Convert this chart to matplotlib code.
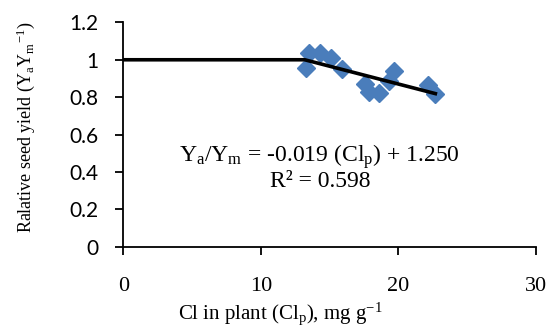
import matplotlib.pyplot as plt
import matplotlib as mpl

# Werte
cl_plant = [13.3, 13.5, 14.3, 15.1, 15.9, 17.55, 17.9, 18.6, 19.3, 19.7, 22.2, 22.65]
rel_yield = [0.954, 1.034, 1.037, 1.007, 0.950, 0.870, 0.826, 0.824, 0.888, 0.940, 0.863, 0.817]

# Modell: Plateau bei 1.0, danach lineare Abnahme
line_x = [0, 13.2, 22.7]
line_y = [1.0, 1.0, 0.819]

x_ticks = [0, 10, 20, 30]
y_ticks = [0, 0.2, 0.4, 0.6, 0.8, 1.0, 1.2]
y_ticklabels = ['0', '0.2', '0.4', '0.6', '0.8', '1', '1.2']

mpl.rcParams['font.family'] = 'Liberation Serif'
mpl.rcParams['mathtext.fontset'] = 'custom'
mpl.rcParams['mathtext.rm'] = 'Liberation Serif'
mpl.rcParams['mathtext.it'] = 'Liberation Serif'

fig = plt.figure(figsize=(5.49, 3.29), dpi=100)
ax = fig.add_axes([0.2246, 0.250, 0.7512, 0.682])

ax.plot(line_x, line_y, color='black', lw=2.6, zorder=3)
ax.plot(cl_plant, rel_yield, 'D', color='#4a7dbb', ms=9, mec='#4a7dbb', zorder=2)

ax.set_xlim(0, 30)
ax.set_ylim(0, 1.2)
ax.set_xticks(x_ticks)
ax.set_yticks(y_ticks)
ax.set_yticklabels(y_ticklabels, family='Lato', fontsize=15)
for lab in ax.get_xticklabels():
    lab.set_fontsize(16)

ax.spines['top'].set_visible(False)
ax.spines['right'].set_visible(False)
ax.spines['left'].set_linewidth(1.3)
ax.spines['bottom'].set_linewidth(1.3)
ax.tick_params(axis='both', direction='out', length=6, width=1.3)
ax.tick_params(axis='y', pad=12)
ax.tick_params(axis='x', pad=16)

ax.set_xlabel('Cl in plant (Cl$_\\mathregular{p}$), mg g$^\\mathregular{-1}$', fontsize=15, va='center')
ax.xaxis.set_label_coords(0.38, -0.30)
ax.set_ylabel('Ralative seed yield (Y$_\\mathregular{a}$Y$_\\mathregular{m}$$^\\mathregular{-1}$)', fontsize=13)
ax.yaxis.set_label_coords(-0.21, 0.53)

ax.text(14.3, 0.48, 'Y$_\\mathregular{a}$/Y$_\\mathregular{m}$ = -0.019 (Cl$_\\mathregular{p}$) + 1.250',
        ha='center', va='center', fontsize=17)
ax.text(14.3, 0.348, 'R² = 0.598', ha='center', va='center', fontsize=17)

fig.savefig('out.png', dpi=100)
